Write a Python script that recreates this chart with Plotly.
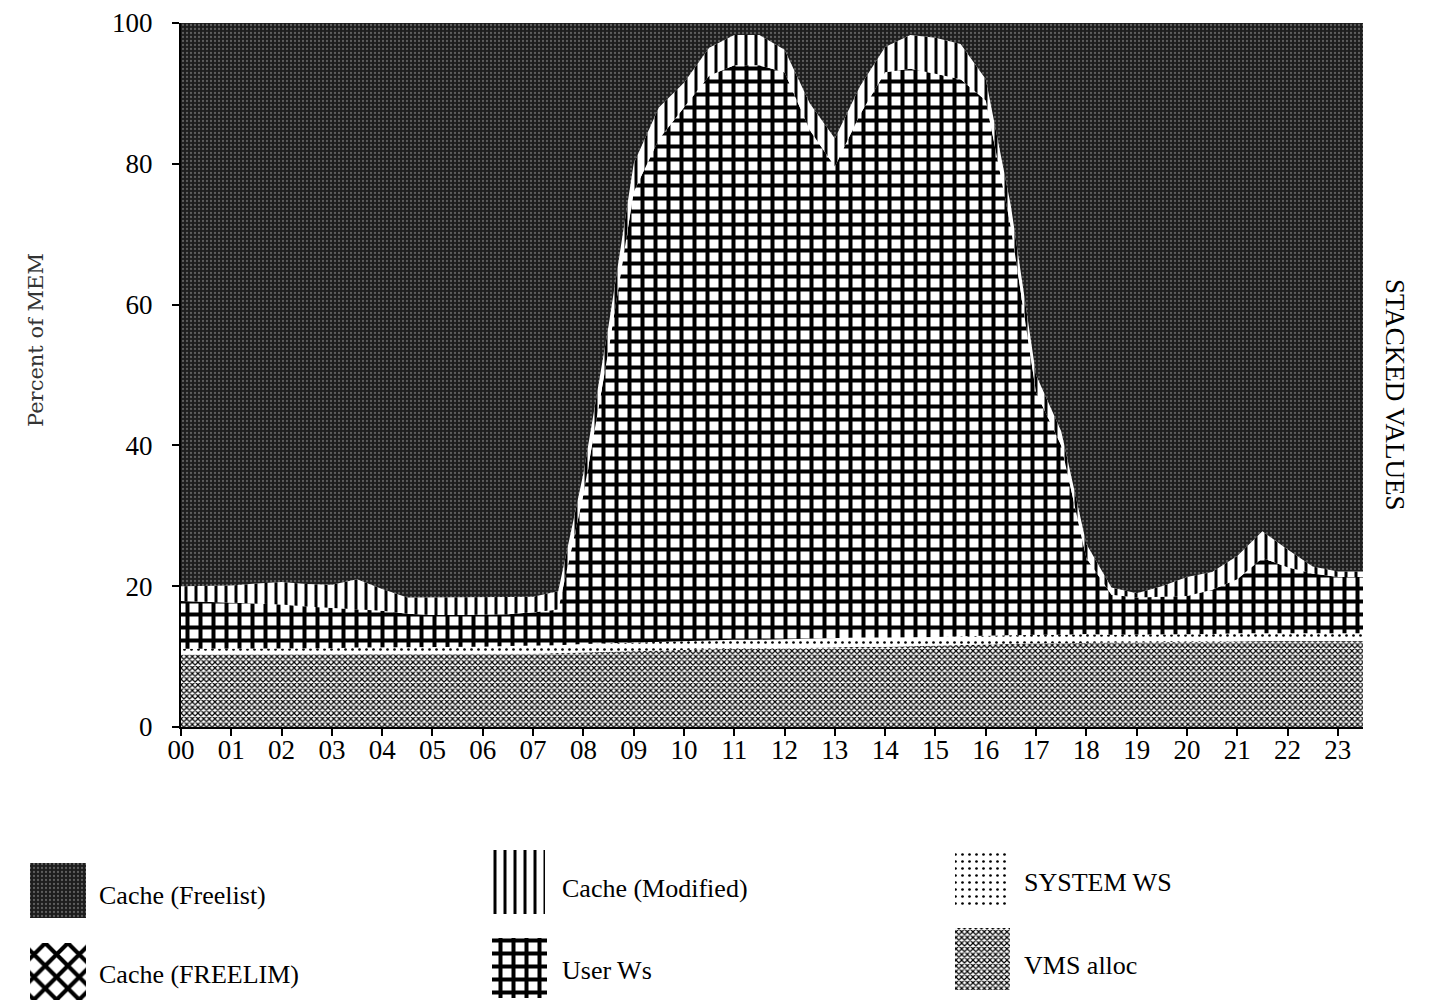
import plotly.graph_objects as go

# ---- data ----
hours = [0.0, 0.5, 1.0, 1.5, 2.0, 2.5, 3.0, 3.5, 4.0, 4.5, 5.0, 5.5, 6.0, 6.5, 7.0, 7.5,
         8.0, 8.5, 9.0, 9.5, 10.0, 10.5, 11.0, 11.5, 12.0, 12.5, 13.0, 13.5, 14.0, 14.5, 15.0, 15.5,
         16.0, 16.5, 17.0, 17.5, 18.0, 18.5, 19.0, 19.5, 20.0, 20.5, 21.0, 21.5, 22.0, 22.5, 23.0, 23.5]
tick_vals = list(range(24))
tick_text = ["00", "01", "02", "03", "04", "05", "06", "07", "08", "09", "10", "11",
             "12", "13", "14", "15", "16", "17", "18", "19", "20", "21", "22", "23"]

vms_alloc = [10.3, 10.3, 10.3, 10.3, 10.3, 10.3, 10.3, 10.3, 10.3, 10.3, 10.4, 10.4, 10.4, 10.4, 10.4, 10.5,
             10.6, 10.7, 10.8, 10.9, 11.0, 11.0, 11.1, 11.1, 11.2, 11.2, 11.3, 11.4, 11.4, 11.5, 11.6, 11.7,
             11.8, 11.8, 11.9, 11.9, 12.0, 12.0, 12.0, 12.1, 12.1, 12.1, 12.2, 12.2, 12.2, 12.2, 12.2, 12.2]
system_ws = [0.8, 0.8, 0.8, 0.9, 0.9, 0.9, 0.9, 1.0, 1.0, 1.0, 1.0, 1.0, 1.0, 1.1, 1.1, 1.1,
             1.2, 1.2, 1.3, 1.3, 1.3, 1.3, 1.3, 1.3, 1.3, 1.3, 1.3, 1.3, 1.3, 1.2, 1.2, 1.2,
             1.2, 1.2, 1.2, 1.2, 1.2, 1.1, 1.1, 1.1, 1.1, 1.1, 1.1, 1.1, 1.1, 1.1, 1.1, 1.1]
cache_freelim = [0.0] * 48
# top edge of the User Ws band (stacked)
user_top = [17.9, 17.8, 17.7, 17.6, 17.4, 17.1, 16.9, 16.8, 16.5, 16.1, 15.9, 15.9, 15.9, 16.0, 16.3, 16.7,
            33.0, 53.5, 76.0, 83.5, 88.0, 92.5, 94.0, 94.0, 93.0, 84.8, 79.6, 87.0, 93.0, 93.5, 92.8, 92.0,
            89.0, 71.0, 47.5, 40.0, 24.0, 18.8, 18.4, 18.5, 18.6, 19.5, 21.0, 24.0, 22.7, 21.8, 21.3, 21.3]
# top edge of the Cache (Modified) band (stacked)
modified_top = [20.0, 20.0, 20.1, 20.4, 20.6, 20.3, 20.2, 21.0, 19.6, 18.4, 18.4, 18.4, 18.4, 18.4, 18.5, 19.3,
                36.0, 57.0, 80.0, 88.0, 91.5, 96.5, 98.3, 98.3, 96.2, 88.6, 83.6, 91.0, 96.6, 98.3, 97.9, 97.0,
                92.0, 74.0, 50.0, 42.0, 26.0, 19.8, 19.0, 20.0, 21.3, 22.0, 24.3, 27.8, 25.2, 22.8, 22.1, 22.1]

user_ws = [round(u - v - s, 2) for u, v, s in zip(user_top, vms_alloc, system_ws)]
cache_modified = [round(m - u, 2) for m, u in zip(modified_top, user_top)]
cache_freelist = [round(100 - m, 2) for m in modified_top]

names = ["VMS alloc", "SYSTEM WS", "Cache (FREELIM)", "User Ws", "Cache (Modified)", "Cache (Freelist)"]
values = [vms_alloc, system_ws, cache_freelim, user_ws, cache_modified, cache_freelist]

SERIF = "Liberation Serif, Times New Roman, serif"

patterns = {
    "VMS alloc": dict(shape="x", bgcolor="white", fgcolor="black", size=4, solidity=0.5, fillmode="replace"),
    "SYSTEM WS": dict(shape=".", bgcolor="white", fgcolor="black", size=7, solidity=0.12, fillmode="replace"),
    "Cache (FREELIM)": dict(shape="x", bgcolor="white", fgcolor="black", size=16, solidity=0.45, fillmode="replace"),
    "User Ws": dict(shape="+", bgcolor="white", fgcolor="black", size=13, solidity=0.52, fillmode="replace"),
    "Cache (Modified)": dict(shape="|", bgcolor="white", fgcolor="black", size=10, solidity=0.3, fillmode="replace"),
    "Cache (Freelist)": dict(shape=".", bgcolor="#1d1d1d", fgcolor="#5e5e5e", size=4, solidity=0.25, fillmode="replace"),
}

fig = go.Figure()
for name, vals in zip(names, values):
    fig.add_trace(go.Scatter(
        x=hours, y=vals, name=name, stackgroup="mem", mode="lines",
        line=dict(width=0, color="black"),
        fillpattern=patterns[name], showlegend=False,
        hovertemplate=name + ": %{y}<extra></extra>",
    ))

# ---- custom legend swatches (legend panel axes) ----
legend_items = [
    ("Cache (Freelist)", 30, 86, 863, 918, 97, 895),
    ("Cache (FREELIM)", 30, 86, 943, 1000, 97, 974),
    ("Cache (Modified)", 490, 545, 850, 914, 560, 888),
    ("User Ws", 492, 547, 938, 998, 560, 970),
    ("SYSTEM WS", 955, 1010, 850, 908, 1022, 882),
    ("VMS alloc", 955, 1010, 928, 990, 1022, 965),
]
for name, x0, x1, y0, y1, tx, ty in legend_items:
    fig.add_trace(go.Scatter(
        x=[x0, x1, x1, x0, x0], y=[y0, y0, y1, y1, y0],
        xaxis="x2", yaxis="y2", mode="lines", fill="toself",
        line=dict(width=0, color="black"), fillpattern=patterns[name],
        showlegend=False, hoverinfo="skip",
    ))
    fig.add_annotation(x=tx, y=ty, xref="x2", yref="y2", text=name, showarrow=False,
                       xanchor="left", yanchor="middle",
                       font=dict(family=SERIF, size=26, color="black"))

fig.add_annotation(x=22 / 1439, y=0.66, xref="paper", yref="paper", text="Percent of MEM",
                   showarrow=False, textangle=-90,
                   font=dict(family="DejaVu Serif, serif", size=21, color="#333"))
fig.add_annotation(x=1412 / 1439, y=0.605, xref="paper", yref="paper", text="STACKED VALUES",
                   showarrow=False, textangle=90,
                   font=dict(family=SERIF, size=27, color="black"))

fig.update_layout(
    width=1439, height=1000,
    margin=dict(l=0, r=0, t=0, b=0, autoexpand=False),
    paper_bgcolor="white", plot_bgcolor="white",
    showlegend=False,
    xaxis=dict(domain=[181 / 1439, 1363 / 1439], range=[0, 23.5], tickvals=tick_vals, ticktext=tick_text,
               showgrid=False, zeroline=False, showline=True, linecolor="black", linewidth=2,
               ticks="outside", ticklen=7, tickwidth=2, tickcolor="black", automargin=False,
               tickfont=dict(family=SERIF, size=27, color="black"), ticklabelstandoff=-9),
    yaxis=dict(domain=[0.273, 0.977], range=[0, 100], tickvals=[0, 20, 40, 60, 80, 100],
               showgrid=False, zeroline=False, showline=True, linecolor="black", linewidth=2,
               ticks="outside", ticklen=7, tickwidth=2, tickcolor="black", automargin=False,
               tickfont=dict(family=SERIF, size=27, color="black"), ticklabelstandoff=14),
    xaxis2=dict(domain=[0, 1], range=[0, 1439], visible=False, fixedrange=True, automargin=False),
    yaxis2=dict(domain=[0, 0.17], range=[1000, 830], visible=False, fixedrange=True, automargin=False),
)

fig.write_html("out.html", config={"displayModeBar": False},
               post_script="document.body.style.margin='0px';")
